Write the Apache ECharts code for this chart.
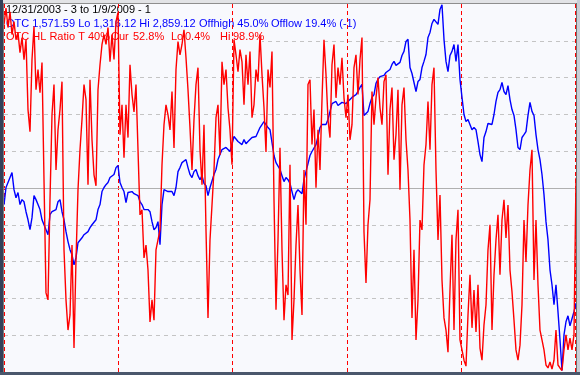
<!DOCTYPE html>
<html><head><meta charset="utf-8">
<script src="https://cdn.jsdelivr.net/npm/echarts@6/dist/echarts.min.js"></script>
<style>html,body{margin:0;padding:0;background:#f8f9fd}#c{width:580px;height:375px}</style>
</head><body><div id="c"></div>
<script>
// Sampling of the daily series (about 57 samples per year), starting 2004
const START_YEAR = 2004;
const SAMPLES_PER_YEAR = 57.13;
const YEAR_LINES = [2004, 2005, 2006, 2007, 2008, 2009];
const RATIO_TICKS = [0, 10, 20, 30, 40, 50, 60, 70, 80, 90, 100];

// OTC (Nasdaq composite) closes
const OTC = [
2016,2088,2109,2130,2151,2079,2045,2067,2016,2037,
2028,1986,1952,1910,1961,2054,2037,2016,1995,1952,
1944,1910,1889,1974,1986,1986,1995,2028,2037,1986,
1952,1902,1860,1826,1805,1762,1792,1855,1847,1876,
1889,1889,1902,1919,1931,1931,1952,1995,2016,2071,
2088,2100,2109,2130,2134,2143,2172,2181,2109,2088,
2071,2024,2067,2067,2071,2062,2062,2054,2028,2016,
1995,1999,1995,1986,1944,1910,1919,1944,1847,2016,
2079,2079,2071,2075,2071,2054,2088,2155,2172,2193,
2197,2206,2172,2143,2130,2155,2164,2138,2121,2138,
2105,2096,2054,2088,2088,2143,2164,2206,2214,2248,
2248,2257,2252,2240,2248,2303,2307,2282,2290,2269,
2290,2273,2282,2290,2299,2307,2303,2311,2341,2349,
2366,2358,2341,2332,2332,2223,2193,2185,2164,2138,
2113,2130,2121,2105,2071,2037,2067,2079,2071,2062,
2121,2155,2189,2223,2240,2248,2269,2303,2341,2354,
2358,2354,2375,2383,2442,2447,2451,2434,2438,2447,
2447,2442,2451,2459,2468,2472,2480,2493,2510,2523,
2392,2396,2409,2442,2468,2480,2527,2544,2556,2561,
2561,2573,2577,2586,2607,2620,2603,2607,2616,2645,
2662,2704,2713,2594,2569,2565,2493,2535,2544,2594,
2620,2649,2721,2742,2780,2797,2789,2776,2839,2859,
2713,2620,2577,2645,2662,2691,2620,2691,2544,2468,
2396,2366,2375,2375,2332,2341,2332,2282,2227,2197,
2299,2324,2358,2366,2354,2396,2451,2489,2501,2531,
2493,2480,2518,2459,2417,2392,2332,2257,2248,2299,
2311,2324,2392,2447,2409,2392,2311,2248,2206,2143,
2058,1944,1868,1741,1678,1594,1678,1564,1446,1316,
1467,1522,1547,1505,1505,1564,1600
];

// OTC HL Ratio (%)
const HL_RATIO = [
94.4,98.9,93.6,97.9,91.7,95.2,90.3,92.2,86.8,90.9,
84.9,90.3,71.3,65.3,84.9,93.9,76.7,82.2,75.9,84.1,
52.2,21.5,19.6,46.8,69.9,78.1,54.9,65.8,71.3,78.9,
33.2,19.6,11.4,15.5,34.5,6.5,30.5,49.5,60.4,68.6,
78.1,74.0,50.9,79.4,63.1,53.6,50.6,76.7,83.5,89.0,
91.7,89.0,93.6,84.3,91.7,84.9,95.2,97.7,64.5,72.6,
58.2,72.6,63.7,83.5,75.4,70.7,78.1,60.4,42.7,44.1,
31.0,34.5,27.7,13.6,19.6,14.1,33.2,35.9,38.6,56.3,
67.2,72.6,69.9,65.8,76.2,60.9,82.2,89.8,86.2,89.0,
93.0,85.4,76.7,66.4,54.9,68.6,78.1,82.7,60.4,50.9,
67.2,38.6,14.7,35.9,45.4,54.9,69.1,72.6,59.0,84.3,
78.1,82.2,71.8,65.8,56.3,90.3,86.2,81.6,87.6,84.3,
72.6,86.2,78.1,87.1,69.1,72.6,82.2,78.9,91.7,80.8,
71.8,59.8,82.2,77.3,87.1,46.8,16.9,35.9,60.9,33.2,
14.1,23.7,20.9,56.3,8.7,19.6,34.5,45.4,27.7,15.5,
54.9,40.0,78.1,79.4,61.8,71.3,50.1,65.8,54.9,74.0,
90.3,80.8,68.6,63.7,83.5,89.0,74.5,82.7,78.1,85.4,
74.5,69.1,75.4,63.1,67.2,82.7,86.2,75.4,84.9,90.9,
38.1,24.2,40.0,46.8,76.2,67.2,74.5,80.0,71.8,67.2,
78.9,80.8,53.6,71.3,77.3,57.7,64.5,76.7,49.5,72.6,
77.3,63.1,54.9,41.3,14.7,33.2,8.7,19.6,41.3,38.6,
56.3,61.8,73.5,60.4,78.1,82.7,54.9,35.9,48.1,25.0,
14.7,11.4,5.4,22.3,37.3,11.4,35.9,44.1,8.7,6.0,
3.2,1.6,15.5,26.4,12.0,22.3,10.9,23.7,6.5,3.2,
12.8,18.2,33.2,40.0,11.4,26.4,35.9,42.7,26.4,41.3,
46.8,36.4,45.4,27.7,21.8,14.1,6.0,3.2,7.3,18.2,
41.3,29.9,45.4,54.9,60.4,25.0,41.3,23.7,11.4,8.7,
6.0,1.9,1.1,2.7,0.8,3.2,11.4,1.9,1.1,0.4,
6.0,10.1,6.0,9.2,6.0,10.1,52.8
];

const TITLE_LINE = '12/31/2003 - 3 to 1/9/2009 - 1';
const OTC_TEXTS = ['OTC 1,571.59 Lo 1,316.12 Hi 2,859.12', 'Offhigh 45.0%', 'Offlow 19.4% (-1)'];
const RATIO_TEXTS = ['OTC HL Ratio T 40%', 'Cur', '52.8%', 'Lo', '0.4%', 'Hi', '98.9%'];

const PLOT_BG = '#f8f9fd';
const FONT = '11px "Liberation Sans", Arial, sans-serif';

const otcData = OTC.map((v, i) => [START_YEAR + i / SAMPLES_PER_YEAR, v]);
const ratioData = HL_RATIO.map((v, i) => [START_YEAR + i / SAMPLES_PER_YEAR, v]);

function txt(s, x, y, color) {
  return { type: 'text', x: x, y: y, z: 1, silent: true,
    style: { text: s, fill: color, font: FONT, verticalAlign: 'middle' } };
}
const otcX = [6, 199, 271];
const ratioX = [6, 111, 133, 171, 185, 220, 233];

const graphics = [
  { type: 'rect', z: 1, silent: true, shape: { x: 4, y: 29, width: 258, height: 14 }, style: { fill: PLOT_BG } },
  txt(TITLE_LINE, 6, 10, '#000000')
];
OTC_TEXTS.forEach((s, i) => graphics.push(txt(s, otcX[i], 23.5, '#0000ff')));
RATIO_TEXTS.forEach((s, i) => graphics.push(txt(s, ratioX[i], 36.5, '#ff0000')));
// window frame
graphics.push(
  { type: 'rect', z: 10, silent: true, shape: { x: 0, y: 0, width: 580, height: 3 }, style: { fill: '#e2e3e6' } },
  { type: 'rect', z: 10, silent: true, shape: { x: 0, y: 3, width: 580, height: 1 }, style: { fill: '#8e8e8e' } },
  { type: 'rect', z: 10, silent: true, shape: { x: 0, y: 0, width: 3, height: 375 }, style: { fill: '#33415a' } },
  { type: 'rect', z: 10, silent: true, shape: { x: 3, y: 3, width: 1, height: 370 }, style: { fill: '#7a7a7a' } },
  { type: 'rect', z: 10, silent: true, shape: { x: 577, y: 0, width: 3, height: 375 }, style: { fill: '#c9ced6' } },
  { type: 'rect', z: 10, silent: true, shape: { x: 576, y: 3, width: 1, height: 370 }, style: { fill: '#6e6e6e' } },
  { type: 'rect', z: 10, silent: true, shape: { x: 0, y: 372, width: 580, height: 3 }, style: { fill: '#4a576c' } }
);

const chart = echarts.init(document.getElementById('c'), null, { renderer: 'canvas' });
chart.setOption({
  animation: false,
  backgroundColor: PLOT_BG,
  grid: { left: 4, right: 3, top: 4, bottom: 3 },
  xAxis: { type: 'value', min: 2004, max: 2009.015, show: false },
  yAxis: [
    { type: 'value', min: RATIO_TICKS[0], max: RATIO_TICKS[RATIO_TICKS.length - 1], interval: 10,
      axisLine: { show: false }, axisTick: { show: false }, axisLabel: { show: false },
      splitLine: { show: true, showMinLine: false, showMaxLine: false,
        lineStyle: { color: '#c4c4c4', type: [4, 4], width: 1 } } },
    { type: 'value', min: 1310, max: 2862, show: false, splitLine: { show: false } }
  ],
  graphic: graphics,
  series: [
    { type: 'line', name: 'OTC', yAxisIndex: 1, data: otcData, showSymbol: false, symbol: 'none',
      lineStyle: { color: '#0000ff', width: 1.4 }, z: 2, silent: true },
    { type: 'line', name: 'HL Ratio', yAxisIndex: 0, data: ratioData, showSymbol: false, symbol: 'none',
      lineStyle: { color: '#ff0000', width: 1.4 }, z: 3, silent: true,
      markLine: { z: 1, silent: true, symbol: ['none', 'none'], animation: false, label: { show: false },
        data: YEAR_LINES.map(y => ({ xAxis: y, lineStyle: { color: '#ff0000', type: [4, 3], width: 1 } }))
          .concat([{ yAxis: 50, lineStyle: { color: '#b0b0b0', type: 'solid', width: 1 } }]) } }
  ]
});
</script></body></html>
